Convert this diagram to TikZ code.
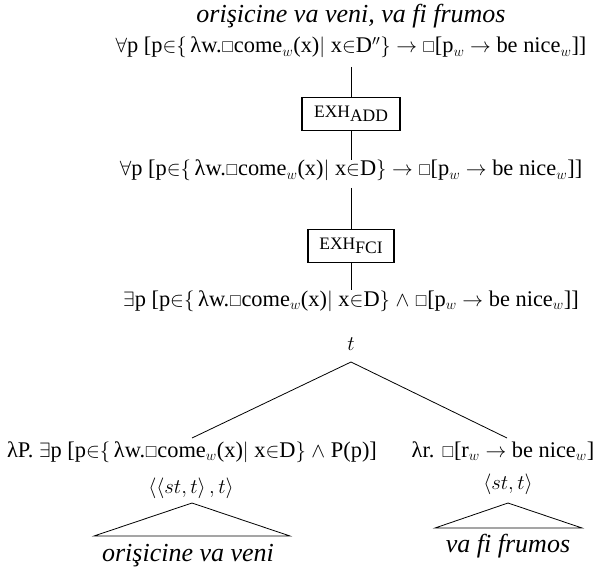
\documentclass[tikz,border=0pt]{standalone}
\usepackage{amssymb}
\usepackage{graphicx}
\usepackage{fontspec}
\setmainfont{Liberation Serif}
\newcommand{\mbx}{\scalebox{0.7}{$\Box$}}
\newcommand{\fsz}{\fontsize{22.4}{26}\selectfont}
\newcommand{\ysz}{\fontsize{20}{24}\selectfont}
\newcommand{\tsz}{\fontsize{26}{30}\selectfont}
\newcommand{\xsz}{\fontsize{17.5}{18}\selectfont}
\newcommand{\lbr}{$\{$\,}
\begin{document}
\begin{tikzpicture}[x=1pt,y=-1pt,
  frm/.style={font=\fsz, inner sep=0pt, anchor=base},
  typ/.style={font=\ysz, inner sep=0pt, anchor=base},
  ttl/.style={font=\tsz\itshape, inner sep=0pt, anchor=base},
  exhbox/.style={draw, line width=1.5pt, inner sep=0pt, minimum width=#1, minimum height=33pt},
  conn/.style={line width=0.8pt},
  tri/.style={line width=0.8pt}]
\useasboundingbox (0,0) rectangle (604,569);
\node[ttl] (title) at (351,23) {orişicine va veni, va fi frumos};
\node[frm] (f1) at (351,53) {$\forall$p [p$\in$\lbr λw.\mbx come$_w$(x)$|$ x$\in$D$''\}$ $\rightarrow$ \mbx[p$_w$ $\rightarrow$ be nice$_w$]]};
\node[exhbox=98pt] (e1) at (351,114) {{\xsz EXH}\raisebox{-4.5pt}{\xsz ADD}};
\node[frm] (f2) at (351,176) {$\forall$p [p$\in$\lbr λw.\mbx come$_w$(x)$|$ x$\in$D$\}$ $\rightarrow$ \mbx[p$_w$ $\rightarrow$ be nice$_w$]]};
\node[exhbox=86pt] (e2) at (351,246) {{\xsz EXH}\raisebox{-4.5pt}{\xsz FCI}};
\node[frm] (f3) at (351,306) {$\exists$p [p$\in$\lbr λw.\mbx come$_w$(x)$|$ x$\in$D$\}$ $\wedge$ \mbx[p$_w$ $\rightarrow$ be nice$_w$]]};
\node[typ] (t) at (351,350) {$t$};
\node[frm] (lf) at (192,457) {λP. $\exists$p [p$\in$\lbr λw.\mbx come$_w$(x)$|$ x$\in$D$\}$ $\wedge$ P(p)]};
\node[frm] (rf) at (503,457) {λr. \mbx[r$_w$ $\rightarrow$ be nice$_w$]};
\node[typ] (lt) at (191,493) {$\langle\langle st,t\rangle\,,t\rangle$};
\node[typ] (rt) at (508,489) {$\langle st,t\rangle$};
\node[ttl] (lw) at (188,561) {orişicine va veni};
\node[ttl] (rw) at (508,552) {va fi frumos};
\coordinate (la) at (192,503);
\coordinate (ll) at (94,536);
\coordinate (lr) at (290,536);
\coordinate (ra) at (508,503);
\coordinate (rl) at (435,528);
\coordinate (rr) at (582,528);
\coordinate (ap) at (351,362);
\coordinate (lend) at (192,438);
\coordinate (rend) at (507,438);
\draw[conn] (351,67) coordinate (c1) -- (e1.north);
\draw[conn] (e1.south) -- (351,160) coordinate (c2);
\draw[conn] (351,188) coordinate (c3) -- (e2.north);
\draw[conn] (e2.south) -- (351,290) coordinate (c4);
\draw[tri] (lend) -- (ap) -- (rend);
\draw[tri] (la) -- (ll) -- (lr) -- cycle;
\draw[tri] (ra) -- (rl) -- (rr) -- cycle;
\end{tikzpicture}
\end{document}
